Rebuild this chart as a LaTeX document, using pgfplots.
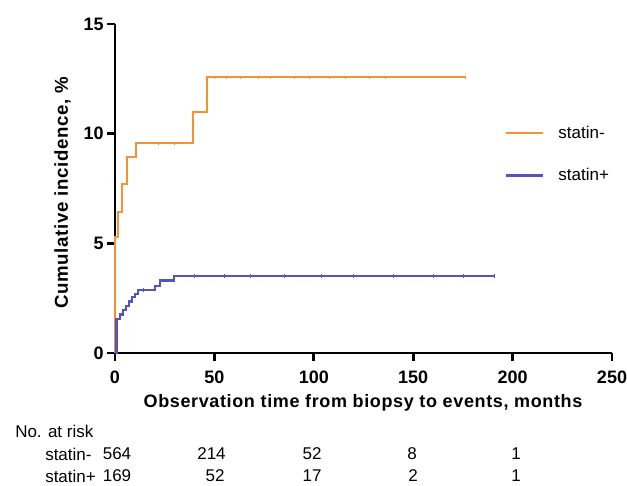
\documentclass[border=0pt]{standalone}
\usepackage{pgfplots}
\pgfplotsset{compat=1.18}
\usepackage{fontspec}
\setmainfont{Liberation Sans}
\newfontfamily\lsfont{Liberation Sans}[LetterSpace=3.5]

\definecolor{statinneg}{RGB}{245,146,52}
\definecolor{statinpos}{RGB}{84,84,186}

\begin{document}
\begin{tikzpicture}
  % page = 627 x 485 px, 1 px = 0.75 pt
  \useasboundingbox (0,0) rectangle (470.25pt,363.75pt);

  \begin{axis}[
      at={(86.25pt,99pt)}, anchor=south west,
      scale only axis,
      width=372.75pt, height=246.75pt,
      xmin=0, xmax=250, ymin=0, ymax=15,
      axis x line*=bottom, axis y line*=left,
      axis line style={-, line width=2.2pt, black},
      xtick={0,50,...,250}, ytick={0,5,10,15},
      tick align=outside,
      major tick length=6pt,
      tick style={line width=2.2pt, black},
      /pgf/number format/assume math mode=true,
      ticklabel style={font=\fontsize{13.5}{15}\selectfont\bfseries},
      xticklabel style={yshift=-4pt},
      yticklabel style={xshift=1pt},
      clip=false,
      legend style={at={(rel axis cs:0.775,0.703)}, anchor=north west,
        draw=none, fill=none, row sep=19pt, column sep=10pt,
        font=\fontsize{12.75}{15}\selectfont,
        nodes={inner sep=1pt}},
      legend cell align=left,
      legend image code/.code={\draw[#1] (0pt,0pt) -- (27.75pt,0pt);},
    ]

    % statin- (Kaplan-Meier cumulative incidence)
    \addplot[const plot, statinneg, line width=1.5pt] coordinates {
      (0,0) (0,5.3) (1.7,6.44) (3.3,7.7) (5.8,8.92) (10.4,9.56)
      (39,10.97) (46.4,12.57) (176,12.57)
    };
    \addlegendentry{statin-}

    % statin+
    \addplot[const plot, statinpos, line width=1.7pt] coordinates {
      (0,0) (0.8,1.54) (2.5,1.75) (4,1.95) (5.5,2.15) (7,2.35)
      (8.5,2.55) (10,2.7) (11.5,2.87) (20,3.05) (22.6,3.3)
      (29.7,3.51) (191,3.51)
    };
    \addlegendentry{statin+}

    % censored observations (small ticks)
    \addplot[only marks, mark=|, mark size=1.2pt, statinneg, line width=0.5pt,
      forget plot] coordinates {
      (22,9.56) (30,9.56) (50,12.57) (56,12.57) (63,12.57) (72,12.57)
      (78,12.57) (90,12.57) (98,12.57) (108,12.57) (116,12.57) (128,12.57)
      (136,12.57) (176,12.57)
    };
    \addplot[only marks, mark=|, mark size=1.2pt, statinpos, line width=0.5pt,
      forget plot] coordinates {
      (14,2.87) (25,3.3) (40,3.51) (55,3.51) (68,3.51) (85,3.51) (104,3.51)
      (120,3.51) (140,3.51) (160,3.51) (175,3.51) (191,3.51)
    };
  \end{axis}

  \begin{scope}[shift={(0pt,363.75pt)}, x=0.75pt, y=-0.75pt]
    \node[rotate=90, font=\fontsize{14}{16}\lsfont\bfseries] at (62.5,193)
      {Cumulative incidence, \%};
    \node[font=\fontsize{13.5}{15}\lsfont\bfseries] at (363,403)
      {Observation time from biopsy to events, months};

    \begin{scope}[every node/.style={font=\fontsize{12.75}{15}\selectfont, inner sep=0pt}]
      \node[anchor=west] at (15,431) {No. at risk};
      \node[anchor=west] at (45,454) {statin-};
      \node[anchor=west] at (45,476) {statin+};
      \node at (117,454) {564};
      \node at (211.5,454) {214};
      \node at (312,454) {52};
      \node at (412,454) {8};
      \node at (516,454) {1};
      \node at (117,476) {169};
      \node at (215,476) {52};
      \node at (312,476) {17};
      \node at (413,476) {2};
      \node at (516,476) {1};
    \end{scope}
  \end{scope}
\end{tikzpicture}
\end{document}
